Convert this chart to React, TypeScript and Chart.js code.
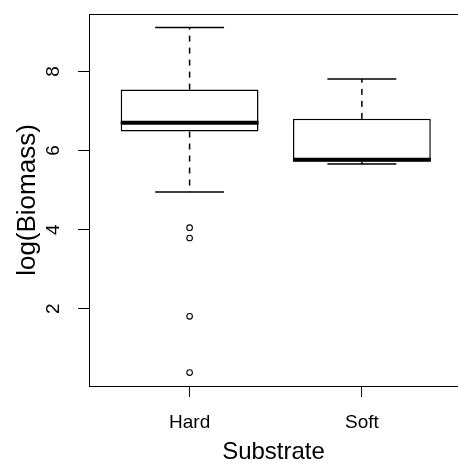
import React, { useEffect, useRef } from 'react';
import Chart from 'chart.js/auto';

// ---- data ----
const CATEGORIES = ['Hard', 'Soft'];
const WHISKER_LOW = [4.95, 5.66];
const Q1 = [6.48, 5.72];
const MEDIAN = [6.70, 5.77];
const Q3 = [7.54, 6.80];
const WHISKER_HIGH = [9.11, 7.81];
const OUTLIERS_HARD = [4.05, 3.79, 1.81, 0.39];
const OUTLIERS_SOFT: number[] = [];
const Y_TICKS = [2, 4, 6, 8];
const Y_MIN = 0.05;
const Y_MAX = 9.45;
const X_MIN = 0.416;
const X_MAX = 2.558;

// ---- style ----
const FONT = "'Liberation Sans', Arial, Helvetica, sans-serif";
const BOX_HALF = 0.4;
const CAP_HALF = 0.2;
const INK = '#000';

export default function App() {
  const ref = useRef<HTMLCanvasElement | null>(null);

  useEffect(() => {
    const canvas = ref.current;
    if (!canvas) return;
    const outliers = [OUTLIERS_HARD, OUTLIERS_SOFT];

    const lineBase = {
      type: 'line' as const,
      borderColor: INK,
      pointRadius: 0,
      fill: false,
      tension: 0,
      borderCapStyle: 'butt' as const,
    };

    const datasets: any[] = [];
    CATEGORIES.forEach((_, i) => {
      const x = i + 1;
      // median
      datasets.push({
        ...lineBase,
        data: [
          { x: x - BOX_HALF, y: MEDIAN[i] },
          { x: x + BOX_HALF, y: MEDIAN[i] },
        ],
        borderWidth: 4,
      });
      // caps
      datasets.push({
        ...lineBase,
        data: [
          { x: x - CAP_HALF, y: WHISKER_HIGH[i] },
          { x: x + CAP_HALF, y: WHISKER_HIGH[i] },
        ],
        borderWidth: 1.5,
      });
      datasets.push({
        ...lineBase,
        data: [
          { x: x - CAP_HALF, y: WHISKER_LOW[i] },
          { x: x + CAP_HALF, y: WHISKER_LOW[i] },
        ],
        borderWidth: 1.5,
      });
      // dashed whiskers
      datasets.push({
        ...lineBase,
        data: [
          { x, y: Q3[i] },
          { x, y: WHISKER_HIGH[i] },
        ],
        borderWidth: 1.5,
        borderDash: [6, 6],
      });
      datasets.push({
        ...lineBase,
        data: [
          { x, y: Q1[i] },
          { x, y: WHISKER_LOW[i] },
        ],
        borderWidth: 1.5,
        borderDash: [6, 6],
      });
      // outliers
      if (outliers[i].length) {
        datasets.push({
          type: 'scatter',
          data: outliers[i].map((v) => ({ x, y: v })),
          showLine: false,
          pointStyle: 'circle',
          pointRadius: 2.8,
          pointBorderWidth: 1.1,
          pointBorderColor: INK,
          pointBackgroundColor: 'rgba(0,0,0,0)',
        });
      }
    });
    // boxes (drawn first, underneath)
    datasets.push({
      type: 'bar',
      data: CATEGORIES.map((_, i) => ({ x: i + 1, y: [Q1[i], Q3[i]] })),
      backgroundColor: '#fff',
      borderColor: INK,
      borderWidth: 1.5,
      borderSkipped: false,
      barPercentage: 0.8,
      categoryPercentage: 1,
    });

    const topBorder = {
      id: 'topBorder',
      afterDraw(chart: any) {
        const { ctx, chartArea } = chart;
        ctx.save();
        ctx.strokeStyle = INK;
        ctx.lineWidth = 1;
        ctx.beginPath();
        ctx.moveTo(chartArea.left, chartArea.top + 0.5);
        ctx.lineTo(chartArea.right, chartArea.top + 0.5);
        ctx.stroke();
        ctx.restore();
      },
    };

    const chart = new Chart(canvas, {
      type: 'bar',
      data: { datasets },
      plugins: [topBorder],
      options: {
        animation: false,
        responsive: false,
        devicePixelRatio: 1,
        events: [],
        layout: { autoPadding: false, padding: { top: 14, left: 0, right: 0, bottom: 0 } },
        plugins: {
          legend: { display: false },
          tooltip: { enabled: false },
        },
        scales: {
          x: {
            type: 'linear',
            offset: false,
            min: X_MIN,
            max: X_MAX,
            afterBuildTicks: (s: any) => {
              s.ticks = CATEGORIES.map((_, i) => ({ value: i + 1 }));
            },
            afterFit: (s: any) => {
              s.height = 77;
              s.paddingLeft = 0;
              s.paddingRight = 0;
            },
            grid: {
              display: true,
              offset: false,
              drawOnChartArea: false,
              drawTicks: true,
              tickLength: 11,
              color: INK,
              lineWidth: 1,
            },
            border: { display: true, color: INK, width: 1 },
            ticks: {
              color: INK,
              font: { family: FONT, size: 19 },
              padding: 14,
              autoSkip: false,
              maxRotation: 0,
              callback: (v: any) => CATEGORIES[Math.round(Number(v)) - 1] ?? '',
            },
            title: {
              display: true,
              text: 'Substrate',
              color: INK,
              font: { family: FONT, size: 24, lineHeight: 0.85 },
              padding: { top: 0, bottom: 0 },
            },
          },
          y: {
            type: 'linear',
            min: Y_MIN,
            max: Y_MAX,
            afterBuildTicks: (s: any) => {
              s.ticks = Y_TICKS.map((v) => ({ value: v }));
            },
            afterFit: (s: any) => {
              s.width = 89;
              s.paddingTop = 0;
              s.paddingBottom = 0;
            },
            grid: {
              display: true,
              drawOnChartArea: false,
              drawTicks: true,
              tickLength: 11,
              color: INK,
              lineWidth: 1,
            },
            border: { display: true, color: INK, width: 1 },
            ticks: {
              color: INK,
              font: { family: FONT, size: 19 },
              minRotation: 90,
              maxRotation: 90,
              crossAlign: 'center',
              padding: 19,
              callback: (v: any) => String(v),
            },
            title: {
              display: true,
              text: 'log(Biomass)',
              color: INK,
              font: { family: FONT, size: 26 },
              padding: { top: 12, bottom: 0 },
            },
          },
        },
      } as any,
    });

    return () => chart.destroy();
  }, []);

  return (
    <div
      style={{
        position: 'fixed',
        left: 0,
        top: 0,
        width: 458,
        height: 463,
        overflow: 'hidden',
        background: '#fff',
      }}
    >
      <canvas ref={ref} width={458} height={463} style={{ display: 'block' }} />
    </div>
  );
}
